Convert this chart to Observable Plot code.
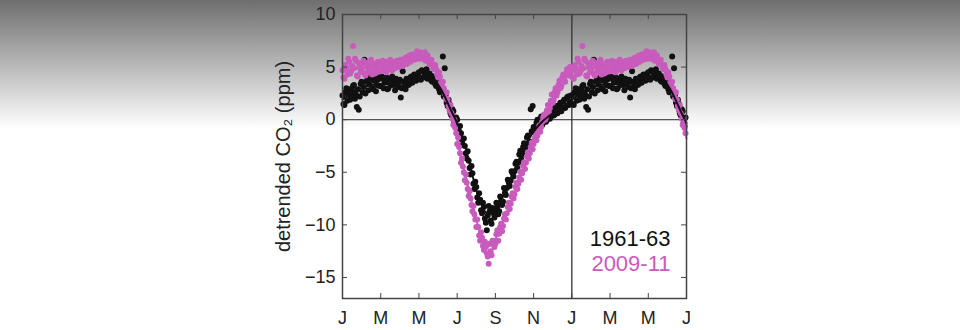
<!DOCTYPE html>
<html><head><meta charset="utf-8">
<script src="https://cdn.jsdelivr.net/npm/d3@7"></script>
<script src="https://cdn.jsdelivr.net/npm/@observablehq/plot@0.6"></script>
<style>
html,body{margin:0;padding:0;}
body{width:960px;height:330px;overflow:hidden;background:linear-gradient(to bottom,#6e6e6e 0px,#ffffff 128px,#ffffff 330px);font-family:"Liberation Sans",Arial,sans-serif;}
</style></head><body><div id="chart"></div>
<script>
// x positions are months from January (18 months shown: first 6 months repeated)
const monthTicks = [0, 2, 4, 6, 8, 10, 12, 14, 16, 18];
const monthLabels = ["J", "M", "M", "J", "S", "N", "J", "M", "M", "J"];
const yTicks = [10, 5, 0, -5, -10, -15];
const yLabel = "detrended CO₂ (ppm)";
const series = ["1961-63", "2009-11"];
const colors = ["#111111", "#c95bbd"];

// scatter points: one value every 0.1 month; set A starts at 0.05, set B at 0.0
const pointStep = 0.1;
const black61a = [
  1.5, 2.6, 1.8, 2.9, 2.2, 3.2, 2.0, 1.2, 0.95, 3.4,
  2.6, 5.7, 3.6, 2.8, 3.9, 3.0, 3.7, 2.7, 3.8, 3.2,
  4.1, 3.0, 3.6, 2.9, 3.9, 3.3, 3.7, 2.8, 3.5, 3.1,
  2.1, 4.6, 3.2, 3.9, 3.3, 4.0, 3.5, 4.3, 3.7, 4.4,
  3.9, 4.7, 4.0, 4.5, 3.9, 4.4, 3.7, 4.1, 3.4, 3.8,
  2.9, 3.3, 6.0, 4.9, 1.6, 1.9, 0.6, 1.0, -0.3, 0.2,
  -0.8, -0.6, -1.9, -1.8, -3.2, -3.0, -4.6, -4.4, -6.1, -5.9,
  -7.4, -7.0, -8.6, -7.9, -9.4, -10.5, -8.2, -9.6, -8.4, -9.3,
  -7.9, -9.0, -7.3, -8.1, -6.5, -7.15, -5.7, -6.3, -4.9, -5.4,
  -4.2, -4.6, -3.3, -3.75, -2.6, -2.95, -1.7, -2.2, 1.0, 1.3,
  -1.2, -0.3, -0.9, 0.1, -0.5, 0.4, -0.2, 0.7, 0.1, 0.9,
  0.4, 1.2, 0.6, 1.4, 0.8, 1.7, 1.1, 2.1, 1.4, 2.3
];
const black61b = [
  2.3, 1.4, 3.0, 2.4, 1.9, 2.8, 3.3, 2.4, 2.9, 2.2,
  3.6, 3.1, 2.5, 3.8, 3.4, 4.2, 2.9, 3.9, 3.3, 4.0,
  3.2, 3.9, 3.5, 4.0, 3.0, 3.6, 4.1, 3.3, 3.9, 3.6,
  3.8, 3.0, 3.6, 2.9, 3.8, 3.4, 4.1, 3.7, 4.2, 3.9,
  4.5, 3.8, 4.6, 4.2, 4.8, 4.1, 4.2, 3.6, 3.9, 3.2,
  3.5, 2.6, 2.8, 2.2, 2.4, 1.3, 1.5, 0.4, 0.8, -0.6,
  0.0, -1.1, -1.3, -2.4, -2.5, -3.7, -3.9, -5.2, -5.1, -6.6,
  -6.4, -7.9, -7.6, -8.9, -8.3, -9.8, -9.1, -8.7, -9.9, -8.9,
  -8.7, -8.3, -8.7, -7.7, -7.8, -6.95, -6.5, -6.0, -5.8, -5.1,
  -4.9, -4.0, -4.1, -2.95, -3.3, -2.25, -2.6, -1.5, -2.1, -1.1,
  -0.7, -1.0, 0.0, -0.6, 0.3, -0.3, 0.5, 0.0, 0.8, 0.3,
  1.0, 0.5, 1.3, 0.8, 1.6, 1.1, 1.9, 1.3, 2.2, 1.7
];
const magenta09a = [
  4.0, 5.2, 4.3, 5.5, 4.6, 7.0, 5.8, 4.2, 5.4, 4.5,
  5.3, 4.4, 5.4, 4.6, 5.2, 4.3, 5.3, 4.7, 5.5, 4.6,
  5.3, 4.7, 5.5, 4.8, 5.4, 4.9, 5.5, 4.9, 5.6, 5.0,
  5.7, 5.1, 5.8, 5.3, 6.0, 5.5, 6.2, 5.7, 6.3, 5.8,
  6.4, 5.8, 6.2, 5.6, 6.1, 5.3, 5.7, 4.9, 5.2, 4.3,
  4.5, 3.5, 3.6, 2.5, 2.6, 1.3, 1.4, 0.1, 0.0, -1.3,
  -1.7, -3.2, -3.7, -5.0, -5.2, -6.6, -6.8, -8.1, -8.2, -9.5,
  -9.5, -11.0, -10.7, -12.0, -11.6, -12.7, -13.7, -12.5, -11.5, -12.1,
  -10.9, -11.5, -10.2, -10.6, -9.4, -9.5, -8.3, -8.5, -7.3, -7.5,
  -6.4, -6.6, -5.5, -5.7, -4.4, -4.7, -3.5, -3.7, -2.6, -2.8,
  -1.8, -1.95, -1.0, -1.15, -0.2, 0.5, 0.2, 1.4, 1.1, 2.4,
  1.9, 3.0, 2.6, 3.7, 3.2, 4.3, 3.6, 4.8, 4.2, 4.9
];
const magenta09b = [
  4.7, 3.9, 4.9, 5.8, 4.4, 5.1, 4.9, 5.6, 4.1, 5.0,
  4.8, 5.6, 4.2, 5.1, 4.5, 5.7, 4.9, 4.4, 5.1, 5.3,
  4.6, 5.6, 5.0, 4.5, 5.2, 5.7, 4.7, 5.3, 5.2, 5.5,
  5.2, 5.5, 5.4, 5.9, 5.4, 6.1, 5.8, 6.0, 6.0, 6.5,
  5.9, 6.3, 6.0, 6.4, 5.9, 5.7, 5.4, 5.3, 4.8, 4.8,
  4.0, 4.1, 3.2, 3.0, 2.0, 1.9, 0.9, 0.6, -0.5, -0.8,
  -2.3, -2.6, -4.1, -4.45, -5.75, -6.0, -7.25, -7.5, -8.7, -9.0,
  -10.2, -10.2, -11.5, -11.2, -12.4, -12.1, -13.0, -11.8, -12.9, -11.5,
  -11.8, -10.5, -10.85, -9.9, -10.1, -9.0, -8.9, -7.9, -8.0, -7.0,
  -7.1, -6.0, -6.1, -4.95, -5.1, -4.05, -4.1, -3.1, -3.2, -2.2,
  -2.3, -1.35, -1.5, -0.55, -0.7, 0.2, 0.0, 0.9, 0.7, 1.8,
  1.6, 2.6, 2.3, 3.3, 3.0, 4.0, 3.8, 4.4, 4.6, 5.0
];

// fitted seasonal curves
const fitMonths = [0, 0.5, 1, 1.5, 2, 2.5, 3, 3.5, 4, 4.4, 4.8, 5.1, 5.4, 5.7, 6.0, 6.3, 6.6, 6.9, 7.2, 7.5, 7.8, 8.1, 8.4, 8.7, 9.0, 9.3, 9.7, 10.1, 10.5, 11, 11.5, 12];
const fitBlack = [1.9, 2.5, 3.0, 3.3, 3.4, 3.4, 3.4, 3.7, 4.1, 4.2, 3.8, 3.05, 2.0, 0.8, -0.3, -1.8, -3.8, -6.0, -7.8, -8.8, -8.9, -8.3, -7.3, -6.0, -4.8, -3.6, -2.0, -0.9, -0.1, 0.6, 1.2, 1.9];
const fitMagenta = [4.5, 4.8, 4.9, 4.9, 5.0, 5.1, 5.3, 5.7, 6.0, 5.8, 5.0, 4.0, 2.5, 0.7, -1.8, -4.3, -6.6, -8.8, -10.8, -12.0, -11.9, -11.0, -9.8, -8.4, -6.9, -5.5, -3.7, -1.9, -0.3, 2.0, 3.7, 4.5];

function expandPoints(vals, start) {
  const out = [];
  vals.forEach((v, i) => {
    const m = start + i * pointStep;
    out.push({m, v});
    if (m < 6) out.push({m: m + 12, v});
  });
  return out;
}
function expandFit(vals) {
  const out = fitMonths.map((m, i) => ({m, v: vals[i]}));
  fitMonths.forEach((m, i) => { if (m > 0 && m <= 6) out.push({m: m + 12, v: vals[i]}); });
  return out;
}

const blackPts = expandPoints(black61a, 0.05).concat(expandPoints(black61b, 0.0));
const magentaPts = expandPoints(magenta09a, 0.05).concat(expandPoints(magenta09b, 0.0));

const W = 960, H = 330, ML = 342, MR = 274, MT = 14, MB = 32;
const FW = W - ML - MR, FH = H - MT - MB, TL = 5;

const chart = Plot.plot({
  width: W, height: H,
  marginLeft: ML, marginRight: MR, marginTop: MT, marginBottom: MB,
  style: {background: "transparent", fontFamily: "'Liberation Sans', Arial, sans-serif", color: "#222"},
  x: {domain: [0, 18]},
  y: {domain: [-17, 10]},
  marks: [
    Plot.ruleY([0], {stroke: "#555", strokeWidth: 1.3}),
    Plot.ruleX([12], {stroke: "#333", strokeWidth: 1.3}),
    Plot.dot(blackPts, {x: "m", y: "v", r: 3, fill: colors[0], stroke: "none"}),
    Plot.dot(magentaPts, {x: "m", y: "v", r: 3, fill: colors[1], stroke: "none"}),
    Plot.line(expandFit(fitMagenta), {x: "m", y: "v", stroke: colors[1], strokeWidth: 2, curve: "catmull-rom"}),
    Plot.line(expandFit(fitBlack), {x: "m", y: "v", stroke: colors[0], strokeWidth: 2, curve: "catmull-rom"}),
    // inward ticks on all four sides
    Plot.tickY(yTicks, {y: d => d, insetRight: FW - TL, stroke: "#444"}),
    Plot.tickY(yTicks, {y: d => d, insetLeft: FW - TL, stroke: "#444"}),
    Plot.tickX(monthTicks, {x: d => d, insetTop: FH - TL, stroke: "#444"}),
    Plot.tickX(monthTicks, {x: d => d, insetBottom: FH - TL, stroke: "#444"}),
    Plot.frame({stroke: "#444", strokeWidth: 1.5}),
    Plot.axisX(monthTicks, {tickSize: 0, tickPadding: 13, fontSize: 18, label: null,
      tickFormat: d => monthLabels[monthTicks.indexOf(d)]}),
    Plot.axisY(yTicks, {tickSize: 0, tickPadding: 7, fontSize: 18, label: null}),
    Plot.text([yLabel], {frameAnchor: "left", textAnchor: "middle", dx: -59, rotate: -90, text: d => d, fontSize: 20, fill: "#222"}),
    Plot.text([series[0]], {frameAnchor: "bottom-right", textAnchor: "end", text: d => d, dx: -16, dy: -53, fontSize: 22, fill: colors[0]}),
    Plot.text([series[1]], {frameAnchor: "bottom-right", textAnchor: "end", text: d => d, dx: -16, dy: -28, fontSize: 22, fill: colors[1]})
  ]
});
document.getElementById("chart").appendChild(chart);
</script>
</body></html>
